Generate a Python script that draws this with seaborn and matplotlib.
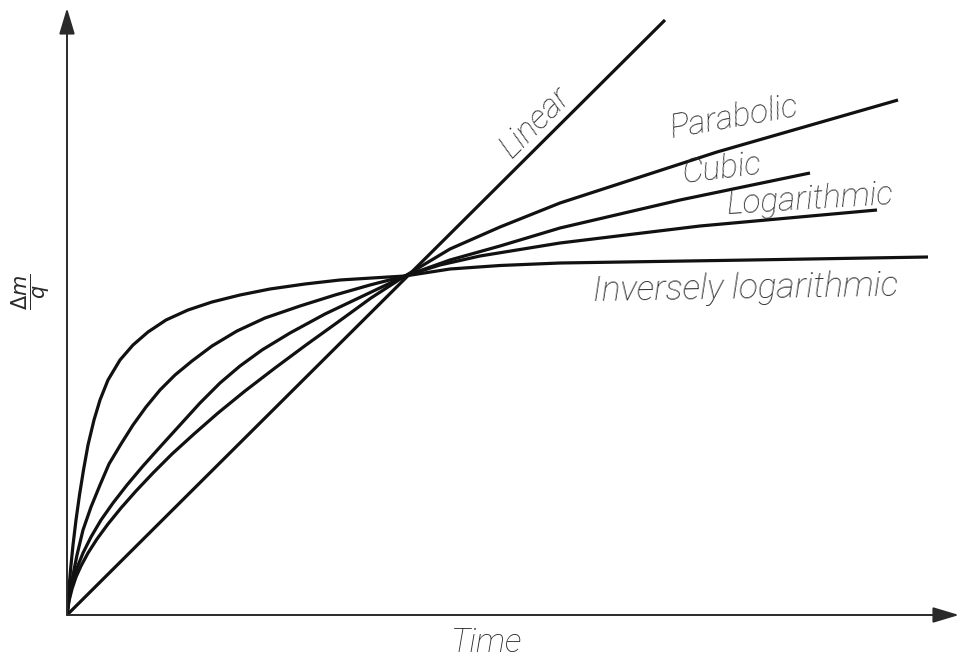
import matplotlib
matplotlib.use("Agg")
import matplotlib.pyplot as plt
import seaborn as sns
import pandas as pd

# Oxidation kinetics: mass gain per unit area versus time (schematic)
linear_t = [0.00, 5.98]
linear_m = [0.00, 5.95]

parabolic_t = [0.00, 0.02, 0.05, 0.09, 0.14, 0.21, 0.30, 0.41, 0.54, 0.69, 0.86, 1.05, 1.27, 1.51,
               1.78, 2.08, 2.39, 2.71, 3.04, 3.38, 3.83, 4.33, 4.93, 6.50, 8.31]
parabolic_m = [0.00, 0.14, 0.26, 0.38, 0.49, 0.62, 0.76, 0.91, 1.07, 1.24, 1.42, 1.61, 1.81, 2.02,
               2.24, 2.47, 2.70, 2.93, 3.17, 3.39, 3.66, 3.88, 4.12, 4.63, 5.15]

cubic_t = [0.00, 0.02, 0.05, 0.10, 0.16, 0.24, 0.34, 0.46, 0.60, 0.76, 0.93, 1.13, 1.33, 1.53,
           1.73, 1.95, 2.23, 2.58, 2.98, 3.38, 3.83, 4.33, 4.93, 6.13, 7.43]
cubic_m = [0.00, 0.16, 0.31, 0.47, 0.62, 0.78, 0.95, 1.12, 1.30, 1.49, 1.68, 1.90, 2.12, 2.32,
           2.49, 2.65, 2.82, 3.01, 3.20, 3.39, 3.55, 3.69, 3.87, 4.15, 4.42]

log_t = [0.00, 0.02, 0.05, 0.10, 0.16, 0.24, 0.33, 0.42, 0.54, 0.66, 0.79, 0.93, 1.08, 1.25,
         1.45, 1.70, 1.98, 2.33, 2.68, 3.03, 3.38, 3.73, 4.13, 4.93, 6.33, 8.10]
log_m = [0.00, 0.17, 0.35, 0.60, 0.85, 1.08, 1.30, 1.51, 1.71, 1.90, 2.08, 2.25, 2.40, 2.54,
         2.69, 2.84, 2.97, 3.09, 3.20, 3.30, 3.39, 3.50, 3.59, 3.72, 3.89, 4.05]

invlog_t = [0.00, 0.015, 0.035, 0.06, 0.09, 0.125, 0.165, 0.21, 0.27, 0.33, 0.41, 0.53, 0.66, 0.81,
            0.99, 1.21, 1.45, 1.73, 2.03, 2.38, 2.73, 3.05, 3.38, 3.83, 4.33, 4.93, 6.83, 8.61]
invlog_m = [0.00, 0.20, 0.45, 0.70, 0.95, 1.20, 1.45, 1.70, 1.95, 2.15, 2.35, 2.55, 2.70, 2.83,
            2.95, 3.05, 3.13, 3.20, 3.26, 3.31, 3.35, 3.37, 3.39, 3.46, 3.495, 3.52, 3.55, 3.58]

curves = {
    "Linear": (linear_t, linear_m),
    "Parabolic": (parabolic_t, parabolic_m),
    "Cubic": (cubic_t, cubic_m),
    "Logarithmic": (log_t, log_m),
    "Inversely logarithmic": (invlog_t, invlog_m),
}

sns.set_style("white")
plt.rcParams["font.family"] = ["Roboto", "DejaVu Sans"]
plt.rcParams["mathtext.fontset"] = "dejavusans"

fig = plt.figure(figsize=(9.61, 6.64), dpi=100)
ax = fig.add_axes([67 / 961, 49 / 664, 894 / 961, 615 / 664])
ax.set_xlim(0, 8.94)
ax.set_ylim(0, 6.15)
ax.axis("off")

for name, (t, m) in curves.items():
    df = pd.DataFrame({"t": t, "m": m})
    sns.lineplot(data=df, x="t", y="m", sort=False, estimator=None, color="#111111",
                 linewidth=2.3, solid_joinstyle="round", solid_capstyle="butt", ax=ax)

# Axes drawn as arrows
arrow_kw = dict(arrowstyle="-|>,head_length=0.8,head_width=0.24", color="#2a2a2a",
                lw=1.4, shrinkA=0, shrinkB=0, mutation_scale=20)
ax.annotate("", xy=(8.92, 0), xytext=(0, 0), arrowprops=arrow_kw, annotation_clip=False)
ax.annotate("", xy=(0, 6.07), xytext=(0, 0), arrowprops=arrow_kw, annotation_clip=False)

label_kw = dict(style="italic", weight="light", color="#2a2a2a", ha="center",
                va="center", rotation_mode="anchor", clip_on=False)
ax.text(4.68, 4.93, "Linear", rotation=45, fontsize=24, **label_kw)
ax.text(6.67, 4.97, "Parabolic", rotation=10, fontsize=24, **label_kw)
ax.text(6.54, 4.46, "Cubic", rotation=7, fontsize=24, **label_kw)
ax.text(7.43, 4.15, "Logarithmic", rotation=3.5, fontsize=24, **label_kw)
ax.text(6.78, 3.26, "Inversely logarithmic", rotation=1, fontsize=25.5, **label_kw)
ax.text(4.20, -0.28, "Time", fontsize=24, **label_kw)
ax.text(-0.36, 3.23, r"$\dfrac{\Delta m}{q}$", rotation=90, color="#2a2a2a",
        fontsize=15, ha="center", va="center", clip_on=False)

fig.savefig("out.png", dpi=100)
